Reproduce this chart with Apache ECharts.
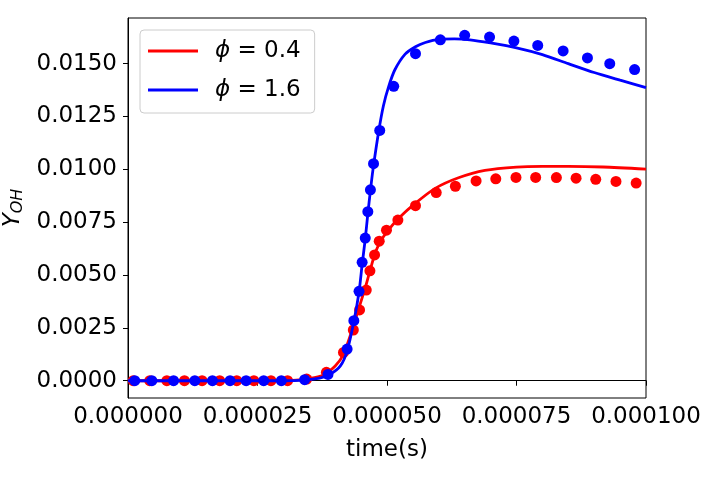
<!DOCTYPE html>
<html>
<head>
<meta charset="utf-8">
<script src="https://cdn.jsdelivr.net/npm/echarts@6/dist/echarts.min.js"></script>
<style>
  html, body { margin: 0; padding: 0; background: #fff; }
  #chart { width: 720px; height: 480px; }
</style>
</head>
<body>
<div id="chart"></div>
<script>
// time in microseconds
var redLineT = [0, 10, 20, 30, 33, 36, 38, 40, 41.5, 43, 44.4, 45.8, 46.6, 47.8, 49, 50.5, 52.3, 55.5, 59.3, 63.8, 68.9, 75, 80, 85, 91.7, 100];
var redLineY = [0, 0, 0, 0.00001, 0.00004, 0.00015, 0.0003, 0.0007, 0.0012, 0.0022, 0.0033, 0.0044, 0.0051, 0.0061, 0.0067, 0.0072, 0.0077, 0.0084, 0.0091, 0.0096, 0.00995, 0.01011, 0.01014, 0.01014, 0.01011, 0.01001];

var blueLineT = [0, 30, 34, 37, 39, 41, 42.3, 43.6, 44.6, 45.2, 45.8, 46.3, 46.8, 47.3, 48.4, 49.3, 50.3, 51.5, 53.5, 55.5, 57.4, 60, 63, 66, 70, 75, 80, 85, 90, 95, 100];
var blueLineY = [0, 0, 0.00003, 0.00012, 0.0003, 0.0007, 0.0014, 0.0028, 0.0042, 0.0055, 0.0067, 0.0079, 0.009, 0.01, 0.0118, 0.013, 0.0139, 0.0147, 0.01545, 0.0158, 0.016, 0.01615, 0.01617, 0.01613, 0.01598, 0.01575, 0.01543, 0.015, 0.01458, 0.01422, 0.01387];

var redDotT = [1.0, 4.2, 7.5, 10.9, 14.3, 17.7, 21.0, 24.3, 27.6, 30.8, 34.5, 38.3, 41.6, 43.5, 44.7, 46.0, 46.7, 47.6, 48.5, 49.9, 52.1, 55.5, 59.5, 63.2, 67.2, 71.0, 74.9, 78.7, 82.7, 86.5, 90.3, 94.2, 98.1];
var redDotY = [0, 0, 0, 0, 0, 0, 0, 0, 0, 0, 0.00008, 0.0004, 0.00134, 0.0024, 0.00335, 0.00429, 0.0052, 0.00595, 0.0066, 0.00712, 0.0076, 0.00828, 0.0089, 0.0092, 0.00945, 0.00955, 0.00962, 0.00962, 0.00961, 0.00958, 0.00953, 0.00943, 0.00935];

var blueDotT = [1.3, 4.6, 8.8, 12.9, 16.3, 19.7, 22.8, 26.2, 29.6, 34.1, 38.6, 42.3, 43.6, 44.6, 45.2, 45.8, 46.3, 46.8, 47.4, 48.6, 51.3, 55.5, 60.3, 65.0, 69.8, 74.5, 79.1, 84.0, 88.7, 93.0, 97.8];
var blueDotY = [0, 0, 0, 0, 0, 0, 0, 0, 0, 0.00005, 0.0003, 0.0015, 0.00284, 0.00423, 0.0056, 0.00675, 0.008, 0.00903, 0.01027, 0.01184, 0.01393, 0.01547, 0.01613, 0.01634, 0.01626, 0.01607, 0.01586, 0.0156, 0.01527, 0.015, 0.01472];

var xTicks = [0, 0.000025, 0.00005, 0.000075, 0.0001];
var yTicks = [0, 0.0025, 0.005, 0.0075, 0.01, 0.0125, 0.015];
var seriesNames = ["ϕ = 0.4", "ϕ = 1.6"];

function pairs(t, y) {
  return t.map(function (v, i) { return [v * 1e-6, y[i]]; });
}

var font = "DejaVu Sans";
var fs = 23;
var chart = echarts.init(document.getElementById("chart"));

var option = {
  animation: false,
  backgroundColor: "#fff",
  grid: {
    left: 128, right: 74, top: 18, bottom: 82,
    outerBoundsMode: "none", containLabel: false,
    show: true, borderColor: "#000", borderWidth: 1, backgroundColor: "transparent"
  },
  legend: {
    orient: "vertical",
    left: 140, top: 30,
    data: seriesNames,
    icon: "rect",
    itemWidth: 50, itemHeight: 3,
    itemGap: 11,
    padding: [7, 14, 9, 8],
    backgroundColor: "#fff",
    borderColor: "#cccccc", borderWidth: 1, borderRadius: 4,
    formatter: function (n) { return n.replace("ϕ", "{i|ϕ}"); },
    textStyle: {
      fontFamily: font, fontSize: fs, color: "#000", padding: [0, 0, 0, 12], lineHeight: 28,
      rich: { i: { fontFamily: font, fontSize: fs, fontStyle: "italic", color: "#000", lineHeight: 28 } }
    }
  },
  xAxis: {
    type: "value",
    min: 0, max: 0.0001, interval: 0.000025,
    name: "time(s)", nameLocation: "middle", nameGap: 41,
    nameTextStyle: { fontFamily: font, fontSize: fs, color: "#000" },
    axisLine: { show: true, lineStyle: { color: "#000", width: 1 } },
    axisTick: { show: true, length: 5, lineStyle: { color: "#000" }, customValues: xTicks },
    axisLabel: {
      fontFamily: font, fontSize: fs, color: "#000", margin: 8,
      customValues: xTicks,
      formatter: function (v) { return v.toFixed(6); }
    },
    splitLine: { show: false }
  },
  yAxis: {
    type: "value",
    min: -0.000817, max: 0.01716,
    name: "{y|Y}{s|OH}", nameLocation: "middle", nameGap: 100,
    nameTextStyle: {
      rich: {
        y: { fontFamily: font, fontSize: fs, fontStyle: "italic", color: "#000" },
        s: { fontFamily: font, fontSize: 16, fontStyle: "italic", color: "#000", padding: [10, 0, 0, 0] }
      }
    },
    axisLine: { show: true, lineStyle: { color: "#000", width: 1 } },
    axisTick: { show: true, length: 5, lineStyle: { color: "#000" }, customValues: yTicks },
    axisLabel: {
      fontFamily: font, fontSize: fs, color: "#000", margin: 11,
      customValues: yTicks,
      formatter: function (v) { return v.toFixed(4); }
    },
    splitLine: { show: false }
  },
  series: [
    {
      name: seriesNames[0], type: "line", data: pairs(redLineT, redLineY),
      showSymbol: false, symbol: "none", smooth: 0.25, z: 2,
      color: "#ff0000", lineStyle: { color: "#ff0000", width: 2.8 }
    },
    {
      name: "redDots", type: "scatter", data: pairs(redDotT, redDotY),
      symbolSize: 11, z: 3, itemStyle: { color: "#ff0000", opacity: 1 }
    },
    {
      name: seriesNames[1], type: "line", data: pairs(blueLineT, blueLineY),
      showSymbol: false, symbol: "none", smooth: 0.25, z: 4,
      color: "#0000ff", lineStyle: { color: "#0000ff", width: 2.8 }
    },
    {
      name: "blueDots", type: "scatter", data: pairs(blueDotT, blueDotY),
      symbolSize: 11, z: 5, itemStyle: { color: "#0000ff", opacity: 1 }
    }
  ]
};

chart.setOption(option);
</script>
</body>
</html>
